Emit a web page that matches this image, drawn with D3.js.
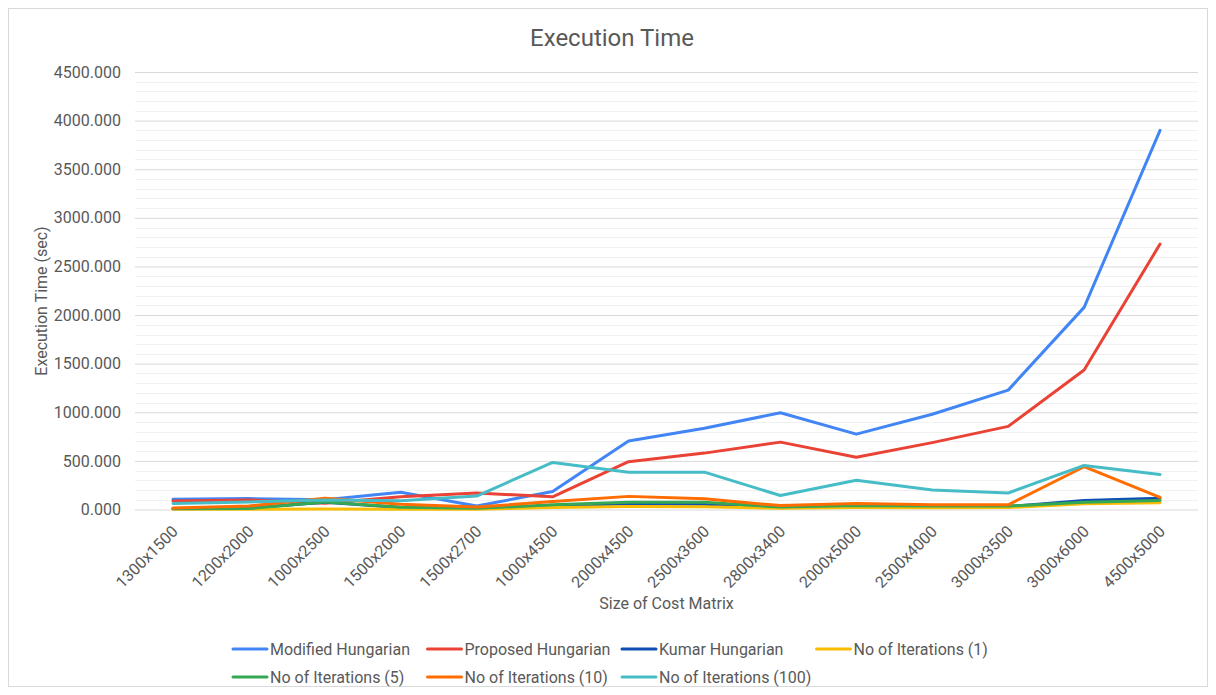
<!DOCTYPE html>
<html>
<head>
<meta charset="utf-8">
<script src="https://cdn.jsdelivr.net/npm/d3@7"></script>
<style>
  html, body { margin: 0; padding: 0; background: #fff; }
  svg { display: block; font-family: Roboto, "Open Sans", sans-serif; }
</style>
</head>
<body>
<svg id="chart" width="1216" height="695"></svg>
<script>
const categories = ["1300x1500","1200x2000","1000x2500","1500x2000","1500x2700","1000x4500","2000x4500","2500x3600","2800x3400","2000x5000","2500x4000","3000x3500","3000x6000","4500x5000"];

const modifiedHungarian = [106, 112, 100, 178, 35, 185, 705, 836, 995, 775, 980, 1228, 2079, 3900];
const proposedHungarian = [88, 97, 65, 132, 170, 130, 492, 580, 693, 537, 688, 855, 1435, 2730];
const kumarHungarian    = [10, 15, 75, 20, 10, 35, 60, 55, 20, 30, 25, 30, 93, 115];
const iterations1       = [3, 3, 5, 3, 3, 20, 32, 28, 12, 20, 18, 20, 58, 70];
const iterations5       = [8, 10, 78, 22, 12, 48, 75, 75, 25, 40, 35, 35, 75, 93];
const iterations10      = [15, 35, 115, 55, 25, 82, 135, 110, 40, 62, 50, 48, 440, 125];
const iterations100     = [62, 78, 98, 90, 138, 484, 382, 384, 144, 300, 200, 170, 453, 360];

const seriesNames  = ["Modified Hungarian","Proposed Hungarian","Kumar Hungarian","No of Iterations (1)","No of Iterations (5)","No of Iterations (10)","No of Iterations (100)"];
const seriesValues = [modifiedHungarian, proposedHungarian, kumarHungarian, iterations1, iterations5, iterations10, iterations100];
const seriesColors = ["#4285F4","#EA4335","#0F4EB5","#FBBC04","#34A853","#FF6D01","#46BDC6"];

const yTicks = [0, 500, 1000, 1500, 2000, 2500, 3000, 3500, 4000, 4500];
const yMinorTicks = d3.range(0, 4501, 100);

const svg = d3.select("#chart");
const textColor = "#595959";

// outer border
svg.append("rect").attr("x", 8.5).attr("y", 8.5).attr("width", 1199).attr("height", 678)
  .attr("fill", "#fff").attr("stroke", "#d9d9d9").attr("stroke-width", 1);

const plot = { left: 135, right: 1198, top: 72, bottom: 509.5 };

const x = d3.scaleBand().domain(categories).range([plot.left, plot.right]);
const y = d3.scaleLinear().domain([0, 4500]).range([plot.bottom, plot.top]);

// minor gridlines
svg.append("g").selectAll("line").data(yMinorTicks.filter(d => d % 500 !== 0)).join("line")
  .attr("x1", plot.left).attr("x2", plot.right)
  .attr("y1", d => Math.round(y(d)) + 0.5).attr("y2", d => Math.round(y(d)) + 0.5)
  .attr("stroke", "#f1f1f1").attr("stroke-width", 1);

// major gridlines via axis
const yAxis = d3.axisLeft(y).tickValues(yTicks).tickFormat(d3.format(".3f"))
  .tickSize(-(plot.right - plot.left)).tickPadding(14);
const gy = svg.append("g").attr("transform", `translate(${plot.left},0)`).call(yAxis);
gy.select(".domain").remove();
gy.selectAll(".tick line").attr("stroke", "#d9d9d9").attr("stroke-width", 1);
gy.selectAll(".tick text").attr("fill", textColor).attr("font-size", 16)
  .attr("font-family", "Roboto, sans-serif");

// x axis labels
const xAxis = d3.axisBottom(x).tickSize(0).tickPadding(0);
const gx = svg.append("g").attr("transform", `translate(0,${plot.bottom})`).call(xAxis);
gx.select(".domain").remove();
gx.selectAll(".tick text")
  .attr("fill", textColor).attr("font-size", 16).attr("font-family", "Roboto, sans-serif")
  .attr("text-anchor", "end")
  .attr("transform", "translate(2,19) rotate(-45)")
  .attr("dy", "0.35em").attr("y", 0);

// lines
const line = d3.line().x((d, i) => x(categories[i]) + x.bandwidth() / 2).y(d => y(d));
svg.append("g").selectAll("path").data(seriesValues).join("path")
  .attr("d", d => line(d))
  .attr("fill", "none")
  .attr("stroke", (d, i) => seriesColors[i])
  .attr("stroke-width", 3)
  .attr("stroke-linejoin", "round")
  .attr("stroke-linecap", "round");

// title
svg.append("text").attr("x", 612).attr("y", 46).attr("text-anchor", "middle")
  .attr("font-size", 24).attr("fill", textColor).text("Execution Time");

// axis titles
svg.append("text").attr("x", (plot.left + plot.right) / 2).attr("y", 609).attr("text-anchor", "middle")
  .attr("font-size", 16).attr("fill", textColor).text("Size of Cost Matrix");
svg.append("text").attr("transform", `translate(47,301) rotate(-90)`).attr("text-anchor", "middle")
  .attr("font-size", 16).attr("fill", textColor).text("Execution Time (sec)");

// legend
const legendRows = [[0, 1, 2, 3], [4, 5, 6]];
const legendX = [270, 464.5, 659, 853.5];
const legendY = [649, 677];
legendRows.forEach((row, r) => {
  row.forEach((si, c) => {
    const g = svg.append("g").attr("transform", `translate(${legendX[c]},${legendY[r]})`);
    g.append("line").attr("x1", -37).attr("x2", -3).attr("y1", 0).attr("y2", 0)
      .attr("stroke", seriesColors[si]).attr("stroke-width", 3).attr("stroke-linecap", "round");
    g.append("text").attr("x", 0).attr("y", 0).attr("dy", "0.35em")
      .attr("font-size", 16).attr("fill", textColor).text(seriesNames[si]);
  });
});
</script>
</body>
</html>
